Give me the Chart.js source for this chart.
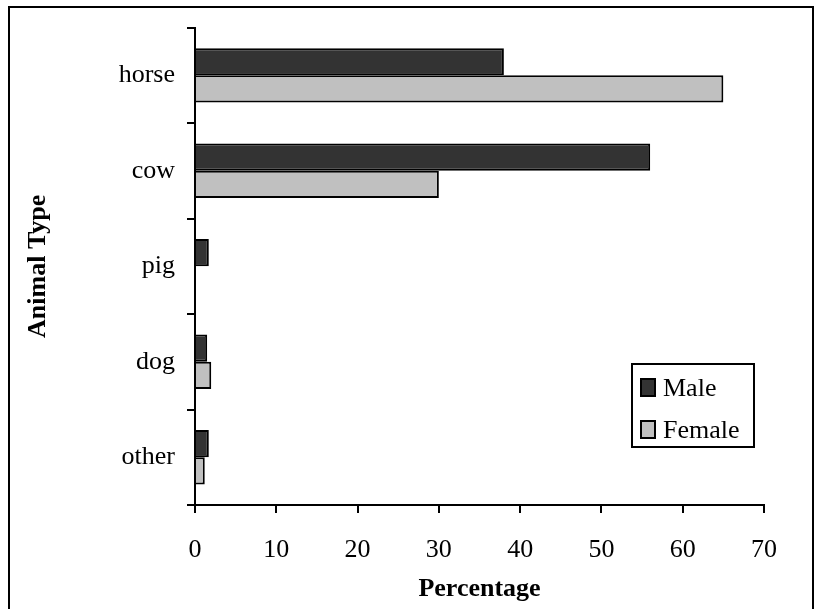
<!DOCTYPE html>
<html>
<head>
<meta charset="utf-8">
<script src="https://cdn.jsdelivr.net/npm/chart.js@4.4.1/dist/chart.umd.min.js"></script>
<style>
  html, body { margin: 0; padding: 0; background: #fff; }
  #wrap { position: relative; width: 822px; height: 609px; overflow: hidden; }
  #frame { position: absolute; left: 8px; top: 6px; width: 806px; height: 620px; border: 2px solid #000; box-sizing: border-box; pointer-events: none; }
  canvas { position: absolute; left: 0; top: 0; }
</style>
</head>
<body>
<div id="wrap">
  <canvas id="chart" width="822" height="609"></canvas>
  <div id="frame"></div>
</div>
<script>
const animals = ['horse', 'cow', 'pig', 'dog', 'other']
const maleValues = [38, 56, 1.7, 1.5, 1.7]
const femaleValues = [65, 30, 0, 2, 1.2]
const seriesNames = ['Male', 'Female']
const seriesColors = ['#333333', '#c0c0c0']

const serif = '"Liberation Serif", "Times New Roman", serif'

// legend box drawn inside the plot, like the original
const boxLegend = {
  id: 'boxLegend',
  afterDraw(chart) {
    const ctx = chart.ctx
    const x = 632, y = 364, w = 122, h = 83
    ctx.save()
    ctx.lineWidth = 2
    ctx.strokeStyle = '#000'
    ctx.fillStyle = '#fff'
    ctx.fillRect(x, y, w, h)
    ctx.strokeRect(x, y, w, h)
    ctx.font = '26px ' + serif
    ctx.textBaseline = 'middle'
    chart.data.datasets.forEach((ds, i) => {
      const cy = y + 24 + i * 42
      ctx.fillStyle = ds.backgroundColor
      ctx.fillRect(x + 9, cy - 9, 14, 17)
      ctx.strokeRect(x + 9, cy - 9, 14, 17)
      ctx.fillStyle = '#000'
      ctx.fillText(ds.label, x + 31, cy + 1)
    })
    ctx.restore()
  }
}

new Chart(document.getElementById('chart').getContext('2d'), {
  type: 'bar',
  data: {
    labels: animals,
    datasets: [
      { label: seriesNames[0], data: maleValues, backgroundColor: seriesColors[0], borderColor: '#000', borderWidth: 2 },
      { label: seriesNames[1], data: femaleValues, backgroundColor: seriesColors[1], borderColor: '#000', borderWidth: 2 }
    ]
  },
  options: {
    indexAxis: 'y',
    responsive: false,
    animation: false,
    layout: { padding: { left: 0, right: 58, top: 27, bottom: 0 } },
    datasets: { bar: { categoryPercentage: 0.57, barPercentage: 1.0 } },
    plugins: {
      legend: { display: false },
      tooltip: { enabled: false }
    },
    scales: {
      x: {
        min: 0,
        max: 70,
        ticks: { stepSize: 10, color: '#000', font: { family: serif, size: 26 }, padding: 22 },
        grid: { drawOnChartArea: false, color: '#000', lineWidth: 2, tickLength: 8 },
        border: { color: '#000', width: 2 },
        title: { display: true, text: 'Percentage', color: '#000', font: { family: serif, size: 26, weight: 'bold' }, padding: { top: 4, bottom: 4 } },
        afterFit(scale) { scale.height = 104 }
      },
      y: {
        ticks: { color: '#000', font: { family: serif, size: 26 }, padding: 12 },
        grid: { drawOnChartArea: false, color: '#000', lineWidth: 2, tickLength: 8, offset: true },
        border: { color: '#000', width: 2 },
        title: { display: true, text: 'Animal Type', color: '#000', font: { family: serif, size: 26, weight: 'bold' }, padding: { top: 23 } },
        afterFit(scale) { scale.width = 195 }
      }
    }
  },
  plugins: [boxLegend]
})
</script>
</body>
</html>
